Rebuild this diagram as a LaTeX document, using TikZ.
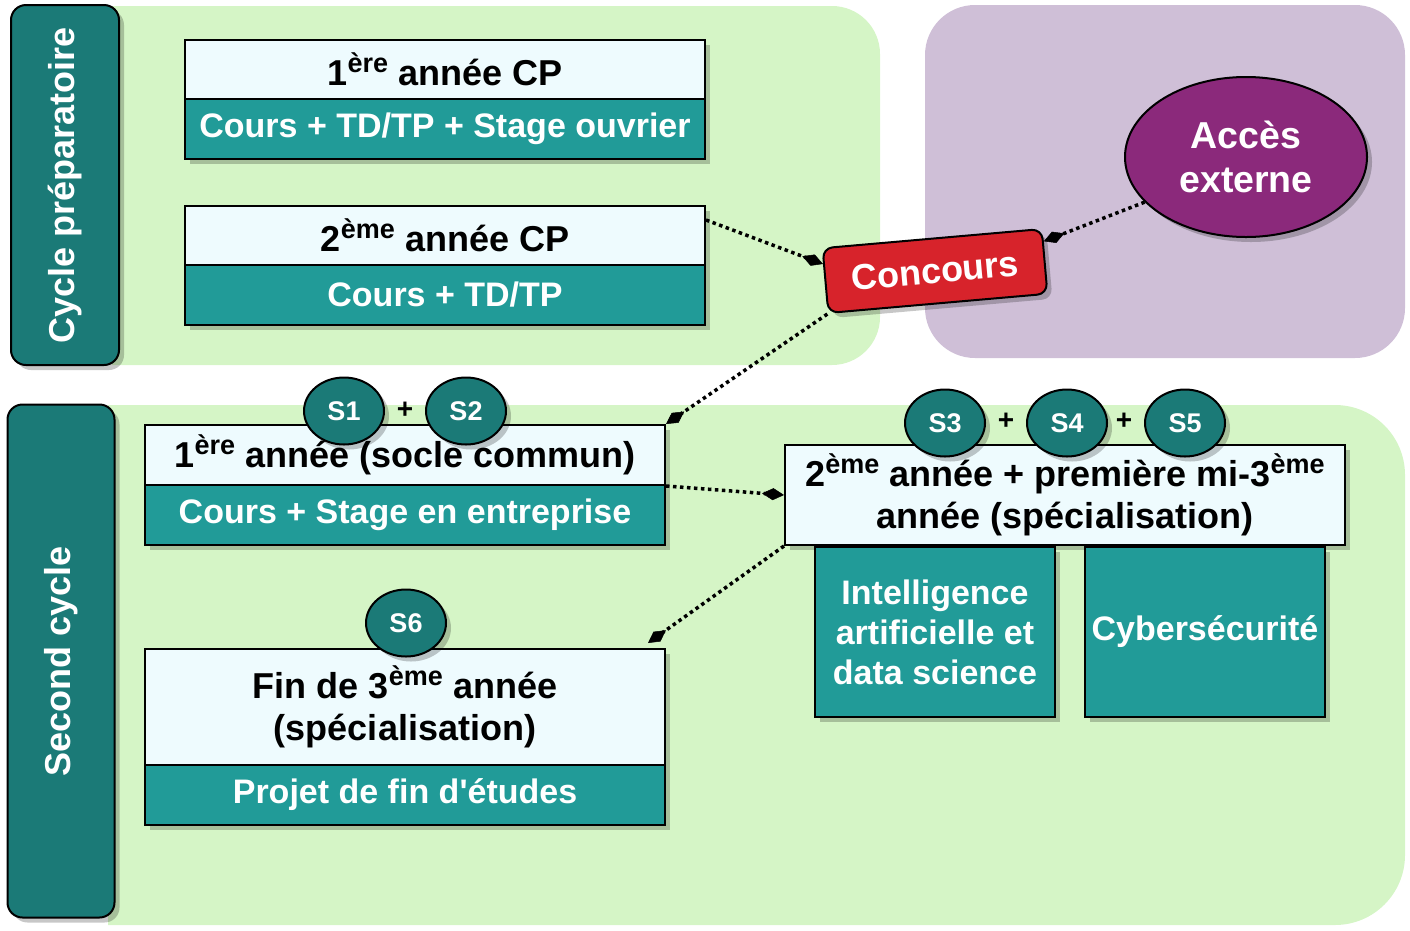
\documentclass[tikz,border=0pt]{standalone}
\usepackage{fontspec}
\setmainfont{Liberation Sans}
\usetikzlibrary{shapes.geometric,shadows,arrows.meta,calc}
\definecolor{greenbg}{RGB}{213,245,198}
\definecolor{purplebg}{RGB}{207,191,215}
\definecolor{tealdk}{RGB}{27,122,119}
\definecolor{tealmd}{RGB}{33,155,152}
\definecolor{lightc}{RGB}{238,251,254}
\definecolor{redc}{RGB}{215,35,43}
\definecolor{purplec}{RGB}{139,41,123}
\newcommand\sups[1]{\raisebox{0.36em}{\fontsize{27}{27}\selectfont #1}}
\begin{document}
\begin{tikzpicture}[x=1pt,y=-1pt,
 shad/.style={drop shadow={shadow xshift=5pt,shadow yshift=-5pt,fill=black,opacity=0.22}},
 blackf/.style={font=\bfseries\fontsize{36}{42}\selectfont},
 whitef/.style={font=\bfseries\fontsize{34}{40}\selectfont},
 lbox/.style={draw=black,line width=2pt,fill=lightc,text=black,inner sep=0pt,shad,blackf,align=center},
 tbox/.style={draw=black,line width=2pt,fill=tealmd,text=white,inner sep=0pt,shad,whitef,align=center},
 bar/.style={draw=black,line width=2pt,fill=tealdk,rounded corners=15pt,inner sep=0pt,shad},
 bartext/.style={rotate=90,text=white,font=\bfseries\fontsize{36}{40}\selectfont},
 sem/.style={ellipse,draw=black,line width=2pt,fill=tealdk,text=white,inner sep=0pt,minimum width=80pt,minimum height=67pt,shad,font=\bfseries\fontsize{27}{30}\selectfont},
 plus/.style={font=\bfseries\fontsize{28}{30}\selectfont,text=black,inner sep=0pt},
 conc/.style={draw=black,line width=2pt,fill=redc,rounded corners=10pt,text=white,inner sep=0pt,shad,font=\bfseries\fontsize{36}{40}\selectfont},
 acc/.style={ellipse,draw=black,line width=2pt,fill=purplec,text=white,inner sep=0pt,shad,align=center,font=\bfseries\fontsize{37.5}{44}\selectfont},
 conn/.style={line width=3.5pt,dash pattern=on 3.5pt off 3.5pt,-{Diamond[length=22pt,width=12pt,line width=0.5pt]}},
]
\useasboundingbox (0,0) rectangle (1410,930);
% backgrounds
\fill[greenbg] (112,6) -- (832,6) arc[start angle=90,end angle=0,radius=48pt] -- (880,317) arc[start angle=0,end angle=-90,radius=48pt] -- (112,365) -- cycle;
\fill[purplebg,rounded corners=50pt] (925,5) rectangle (1405,358);
\fill[greenbg] (108,405) -- (1335,405) arc[start angle=90,end angle=0,radius=70pt] -- (1405,855) arc[start angle=0,end angle=-90,radius=70pt] -- (108,925) -- cycle;
% side bars
\node[bar,minimum width=108pt,minimum height=360pt] (bar1) at (65,185) {};
\node[bartext] (bar1t) at (bar1.center) {Cycle préparatoire};
\node[bar,minimum width=107pt,minimum height=513pt] (bar2) at (61,661) {};
\node[bartext] (bar2t) at (bar2.center) {Second cycle};
% CP boxes
\node[lbox,minimum width=520pt,minimum height=59pt] (cp1t) at (445,69.5) {1\sups{ère} année CP};
\node[tbox,minimum width=520pt,minimum height=60pt] (cp1b) at (445,129) {Cours + TD/TP + Stage ouvrier};
\node[lbox,minimum width=520pt,minimum height=59pt] (cp2t) at (445,235.5) {2\sups{ème} année CP};
\node[tbox,minimum width=520pt,minimum height=60pt] (cp2b) at (445,295) {Cours + TD/TP};
% second cycle boxes
\node[lbox,minimum width=520pt,minimum height=60pt] (soct) at (405,455) {1\sups{ère} année (socle commun)};
\node[tbox,minimum width=520pt,minimum height=60pt] (socb) at (405,515) {Cours + Stage en entreprise};
\node[lbox,minimum width=560pt,minimum height=100pt] (yr2) at (1065,495) {2\sups{ème} année + première mi-3\sups{ème}\\année (spécialisation)};
\node[tbox,minimum width=240pt,minimum height=170pt] (ia) at (935,632) {Intelligence\\artificielle et\\data science};
\node[tbox,minimum width=240pt,minimum height=170pt] (cyb) at (1205,632) {Cybersécurité};
\node[lbox,minimum width=520pt,minimum height=116pt] (fint) at (405,707) {Fin de 3\sups{ème} année\\(spécialisation)};
\node[tbox,minimum width=520pt,minimum height=60pt] (finb) at (405,795) {Projet de fin d\textquotesingle études};
% semesters
\node[sem] (s1) at (344,411) {S1};
\node[plus] (p1) at (405,410) {+};
\node[sem] (s2) at (466,411) {S2};
\node[sem] (s3) at (945,423) {S3};
\node[plus] (p2) at (1006,421) {+};
\node[sem] (s4) at (1067,423) {S4};
\node[plus] (p3) at (1124,421) {+};
\node[sem] (s5) at (1185,423) {S5};
\node[sem] (s6) at (406,623) {S6};
% concours and external access
\node[conc,rotate=5,minimum width=220pt,minimum height=65pt] (conc) at (935,271) {Concours};
\node[acc,minimum width=242pt,minimum height=160pt] (acces) at (1246,157) {Accès\\externe};
% connectors
\draw[conn] ([yshift=-15pt]cp2t.north east) -- ($(conc.north west)!0.25!(conc.south west)$);
\draw[conn] (acces.204) -- ($(conc.north east)!0.2!(conc.south east)$);
\draw[conn] (conc.south west) -- (soct.north east);
\draw[conn] (soct.south east) -- (yr2.west);
\draw[conn] (yr2.south west) -- ([xshift=-18pt,yshift=5pt]fint.north east);
\end{tikzpicture}
\end{document}
